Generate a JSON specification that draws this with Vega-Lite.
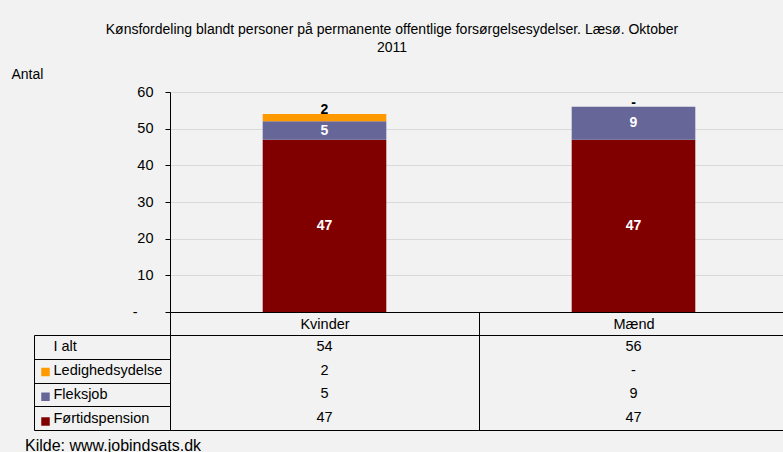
{
  "$schema": "https://vega.github.io/schema/vega-lite/v6.json",
  "background": "#f1f2f1",
  "padding": {"left": 11, "top": 23, "right": 0, "bottom": 0},
  "spacing": 23,
  "bounds": "flush",
  "config": {
    "font": "Liberation Sans",
    "view": {"stroke": null},
    "axis": {"labelFont": "Liberation Sans", "labelFontSize": 14.5, "labelColor": "#000", "titleFont": "Liberation Sans", "titleFontSize": 14, "titleFontWeight": "normal", "titleColor": "#000"},
    "title": {"font": "Liberation Sans", "fontSize": 14, "fontWeight": "normal", "color": "#000"},
    "legend": {"labelFont": "Liberation Sans"}
  },
  "datasets": {
    "bars": [
      {"gender": "Kvinder", "series": "Førtidspension", "k": 1, "value": 47, "label": "47"},
      {"gender": "Kvinder", "series": "Fleksjob", "k": 2, "value": 5, "label": "5"},
      {"gender": "Kvinder", "series": "Ledighedsydelse", "k": 3, "value": 2, "label": "2"},
      {"gender": "Mænd", "series": "Førtidspension", "k": 1, "value": 47, "label": "47"},
      {"gender": "Mænd", "series": "Fleksjob", "k": 2, "value": 9, "label": "9"},
      {"gender": "Mænd", "series": "Ledighedsydelse", "k": 3, "value": 0, "label": "-"}
    ],
    "table": [
      {"gender": "Kvinder", "row": "I alt", "text": "54"},
      {"gender": "Mænd", "row": "I alt", "text": "56"},
      {"gender": "Kvinder", "row": "Ledighedsydelse", "text": "2"},
      {"gender": "Mænd", "row": "Ledighedsydelse", "text": "-"},
      {"gender": "Kvinder", "row": "Fleksjob", "text": "5"},
      {"gender": "Mænd", "row": "Fleksjob", "text": "9"},
      {"gender": "Kvinder", "row": "Førtidspension", "text": "47"},
      {"gender": "Mænd", "row": "Førtidspension", "text": "47"}
    ]
  },
  "vconcat": [
    {
      "width": 618,
      "height": 220,
      "title": {"text": ["Kønsfordeling blandt personer på permanente offentlige forsørgelsesydelser. Læsø. Oktober", "2011"], "anchor": "middle", "frame": "group", "dx": -87, "offset": 12, "lineHeight": 18},
      "data": {"name": "bars"},
      "transform": [
        {"stack": "value", "groupby": ["gender"], "sort": [{"field": "k", "order": "ascending"}], "as": ["y0", "y1"]},
        {"calculate": "(datum.y0 + datum.y1) / 2", "as": "mid"}
      ],
      "encoding": {
        "x": {
          "field": "gender", "type": "nominal", "sort": ["Kvinder", "Mænd"],
          "scale": {"paddingInner": 0, "paddingOuter": 0},
          "axis": {"title": null, "orient": "bottom", "domainColor": "#000", "tickBand": "extent", "tickSize": 23, "tickColor": "#000", "labelAngle": 0, "labelBaseline": "middle", "labelPadding": -11}
        }
      },
      "layer": [
        {
          "mark": {"type": "bar", "width": {"band": 0.4}},
          "encoding": {
            "y": {
              "field": "y0", "type": "quantitative", "title": "Antal",
              "scale": {"domain": [0, 60]},
              "axis": {"values": [0, 10, 20, 30, 40, 50, 60], "labelExpr": "datum.value === 0 ? '-' : datum.label", "labelPadding": {"condition": {"test": "datum.value === 0", "value": 28}, "value": 12}, "grid": true, "gridColor": "#d9d9d9", "domainColor": "#000", "tickColor": "#000", "tickSize": 5, "titleAngle": 0, "titleAlign": "left", "titleBaseline": "middle", "titleX": -159, "titleY": -18}
            },
            "y2": {"field": "y1"},
            "color": {
              "field": "series", "type": "nominal",
              "scale": {"domain": ["Ledighedsydelse", "Fleksjob", "Førtidspension"], "range": ["#FF9900", "#666699", "#800000"]},
              "legend": {"orient": "none", "legendX": -131, "legendY": 273.5, "title": null, "symbolType": "square", "symbolSize": 72, "symbolStrokeWidth": 0, "labelExpr": "''", "labelFontSize": 13, "rowPadding": 10.75, "padding": 0}
            }
          }
        },
        {
          "transform": [{"filter": "datum.series !== 'Ledighedsydelse'"}],
          "mark": {"type": "text", "color": "white", "fontWeight": "bold", "fontSize": 14},
          "encoding": {
            "y": {"field": "mid", "type": "quantitative", "title": "Antal",
              "axis": {"values": [0, 10, 20, 30, 40, 50, 60], "labelExpr": "datum.value === 0 ? '-' : datum.label", "labelPadding": {"condition": {"test": "datum.value === 0", "value": 28}, "value": 12}, "grid": true, "gridColor": "#d9d9d9", "domainColor": "#000", "tickColor": "#000", "tickSize": 5, "titleAngle": 0, "titleAlign": "left", "titleBaseline": "middle", "titleX": -159, "titleY": -18}},
            "text": {"field": "label"}
          }
        },
        {
          "transform": [{"filter": "datum.series === 'Ledighedsydelse'"}],
          "mark": {"type": "text", "color": "black", "fontWeight": "bold", "fontSize": 14, "dy": -4},
          "encoding": {
            "y": {"field": "y1", "type": "quantitative", "title": "Antal",
              "axis": {"values": [0, 10, 20, 30, 40, 50, 60], "labelExpr": "datum.value === 0 ? '-' : datum.label", "labelPadding": {"condition": {"test": "datum.value === 0", "value": 28}, "value": 12}, "grid": true, "gridColor": "#d9d9d9", "domainColor": "#000", "tickColor": "#000", "tickSize": 5, "titleAngle": 0, "titleAlign": "left", "titleBaseline": "middle", "titleX": -159, "titleY": -18}},
            "text": {"field": "label"}
          }
        }
      ]
    },
    {
      "width": 618,
      "height": 95,
      "view": {"stroke": "#000", "strokeWidth": 1},
      "title": {"text": "Kilde: www.jobindsats.dk", "orient": "bottom", "anchor": "start", "frame": "group", "dx": -145, "offset": 7, "fontSize": 16},
      "data": {"name": "table"},
      "mark": {"type": "text", "fontSize": 14.5, "color": "#000"},
      "encoding": {
        "x": {
          "field": "gender", "type": "nominal", "sort": ["Kvinder", "Mænd"],
          "scale": {"paddingInner": 0, "paddingOuter": 0},
          "axis": {"orient": "top", "grid": true, "tickBand": "extent", "gridColor": "#000", "gridOpacity": 1, "labels": false, "ticks": false, "domain": false, "title": null}
        },
        "y": {
          "field": "row", "type": "nominal", "sort": ["I alt", "Ledighedsydelse", "Fleksjob", "Førtidspension"],
          "scale": {"paddingInner": 0, "paddingOuter": 0},
          "axis": {"offset": 136, "domain": true, "domainColor": "#000", "tickBand": "extent", "tickSize": -136, "tickColor": "#000", "labelAlign": "left", "labelPadding": 117, "title": null, "grid": false}
        },
        "text": {"field": "text"}
      }
    }
  ]
}
